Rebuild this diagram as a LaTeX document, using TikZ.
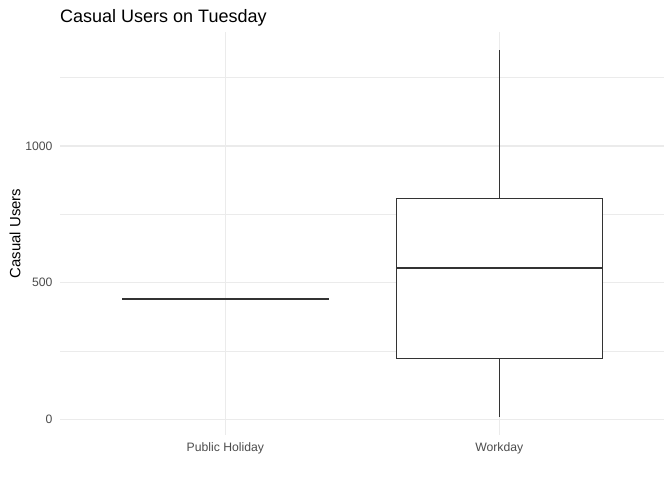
\documentclass[tikz,border=0pt]{standalone}
\usepackage{fontspec}
\setmainfont{Liberation Sans}
\definecolor{gridc}{HTML}{EBEBEB}
\definecolor{tickc}{HTML}{4D4D4D}
\definecolor{boxc}{HTML}{333333}
\begin{document}
\begin{tikzpicture}[x=1pt,y=-1pt,
  major/.style={draw=gridc,line width=1.1pt},
  minor/.style={draw=gridc,line width=0.6pt},
  boxline/.style={draw=boxc,line width=1.1pt},
  medline/.style={draw=boxc,line width=2.2pt},
  ticklab/.style={text=tickc,font=\fontsize{12.2}{13}\selectfont,inner sep=0pt},
  axtitle/.style={text=black,font=\fontsize{14.9}{15}\selectfont,inner sep=0pt},
  plottitle/.style={text=black,font=\fontsize{18}{19}\selectfont,inner sep=0pt}]
\useasboundingbox[fill=white] (0,0) rectangle (672,480);
% minor grid
\foreach \y in {77.3,214,351.3} \draw[minor] (60,\y) -- (664,\y);
% major grid
\foreach \y in {146,282.3,419.3} \draw[major] (60,\y) -- (664,\y);
\foreach \x in {225.3,499.3} \draw[major] (\x,32) -- (\x,435);
% public holiday (degenerate box)
\draw[medline] (122,299) -- (328.7,299);
% workday box
\coordinate (wtop) at (499.3,50);
\coordinate (wbot) at (499.3,416.7);
\coordinate (q3) at (499.3,198.3);
\coordinate (q1) at (499.3,358.3);
\draw[boxline] (wtop) -- (q3);
\draw[boxline] (q1) -- (wbot);
\draw[boxline,fill=white] (396.3,198.3) rectangle (602.7,358.3);
\draw[medline] (396.3,268) -- (602.7,268);
% tick labels
\node[ticklab,anchor=east] (t0) at (52.7,419.3) {0};
\node[ticklab,anchor=east] (t500) at (52.7,282.3) {500};
\node[ticklab,anchor=east] (t1000) at (52.7,146) {1000};
\node[ticklab,anchor=center] (xph) at (225.3,448.7) {Public Holiday};
\node[ticklab,anchor=center] (xwd) at (499.3,448.7) {Workday};
% axis title
\node[axtitle,rotate=90] (ytitle) at (15,233.5) {Casual Users};
% title
\node[plottitle,anchor=base west] (title) at (60,22.7) {Casual Users on Tuesday};
\end{tikzpicture}
\end{document}
